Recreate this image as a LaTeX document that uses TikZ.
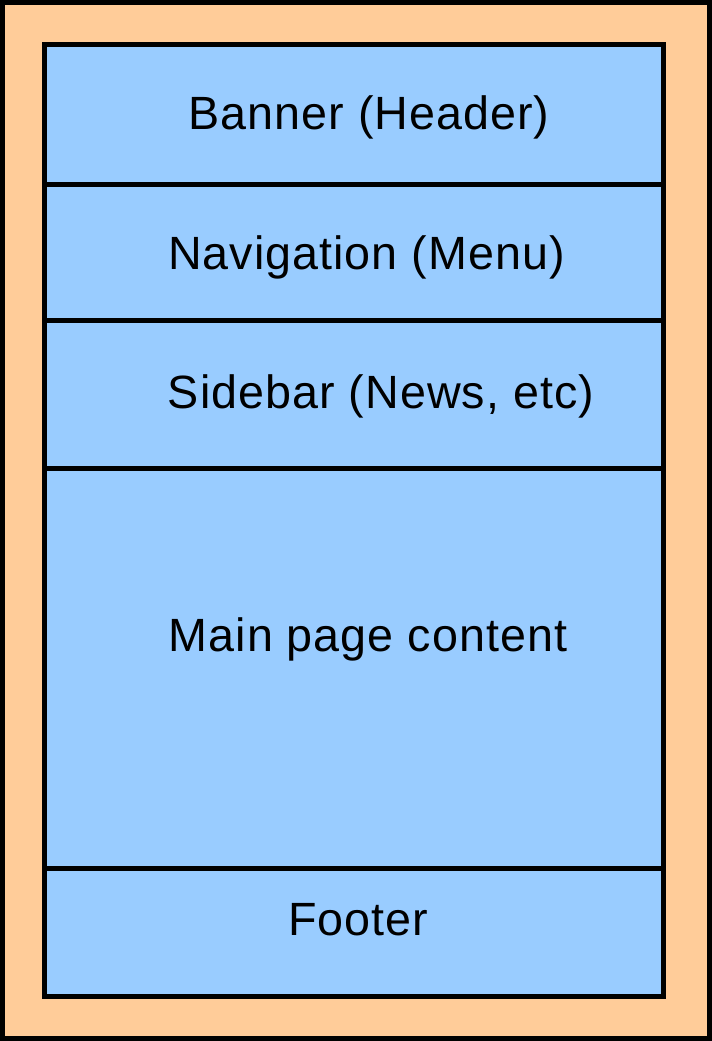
\documentclass[tikz,border=0pt]{standalone}
\usepackage{fontspec}
\setmainfont{Liberation Sans}[LetterSpace=2.2]
\definecolor{pageorange}{HTML}{FFCC99}
\definecolor{bandblue}{HTML}{99CCFF}
\begin{document}
\begin{tikzpicture}[x=0.75pt, y=-0.75pt,
  frame/.style={draw=black, line width=3.75pt, fill=pageorange},
  band/.style={draw=black, line width=3.75pt, fill=bandblue},
  label/.style={inner sep=0pt, anchor=base, font=\fontsize{35pt}{41pt}\selectfont}]
  \useasboundingbox (0,0) rectangle (712,1041);
  % outer page
  \draw[frame] (2.5,2.5) rectangle (709.5,1038.5);
  % layout bands
  \draw[band] (44.5,44.5)  rectangle (663.5,184.5);
  \draw[band] (44.5,184.5) rectangle (663.5,320.5);
  \draw[band] (44.5,320.5) rectangle (663.5,468.5);
  \draw[band] (44.5,468.5) rectangle (663.5,868.5);
  \draw[band] (44.5,868.5) rectangle (663.5,996.5);
  % band labels
  \node[label] (banner)  at (369,130) {Banner (Header)};
  \node[label] (nav)     at (366.5,269.5) {Navigation (Menu)};
  \node[label] (sidebar) at (381,408.5) {Sidebar (News, etc)};
  \node[label] (main)    at (368,651.5) {Main page content};
  \node[label] (footer)  at (358,935) {Footer};
\end{tikzpicture}
\end{document}
